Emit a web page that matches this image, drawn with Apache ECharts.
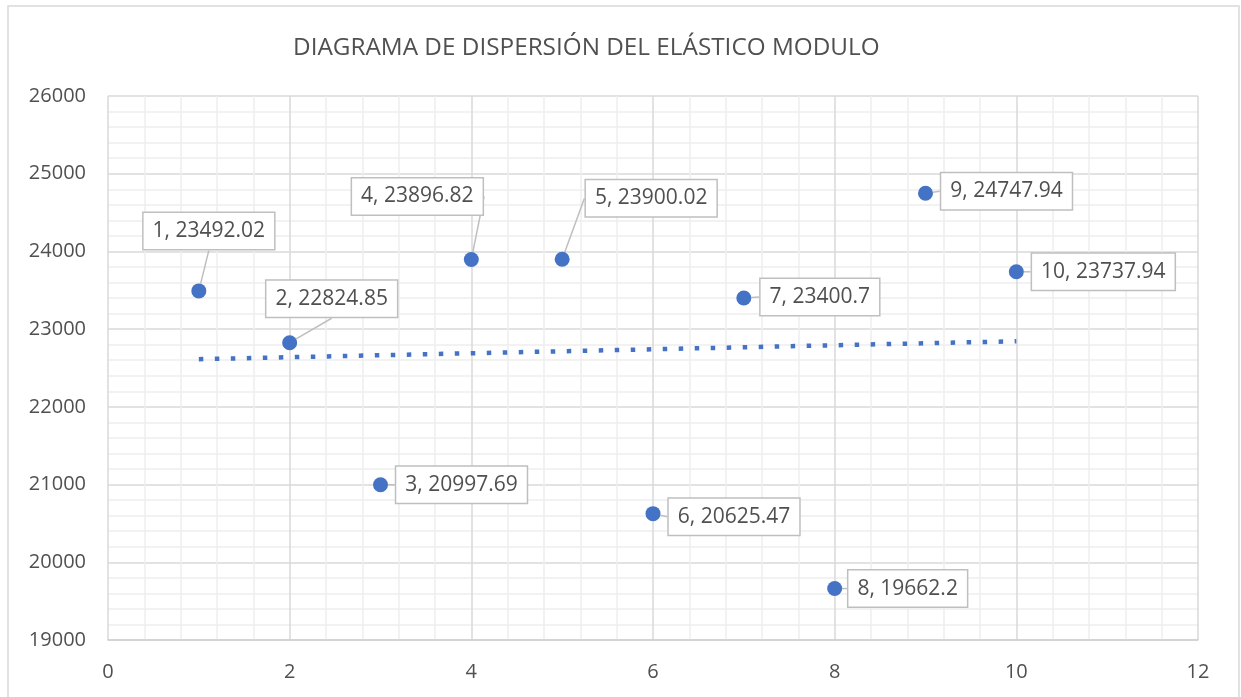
<!DOCTYPE html>
<html>
<head>
<meta charset="utf-8">
<title>Diagrama de dispersión</title>
<script src="https://cdn.jsdelivr.net/npm/echarts@6/dist/echarts.min.js"></script>
<style>
  html, body { margin: 0; padding: 0; background: #fff; }
  #chart { width: 1241px; height: 697px; }
</style>
</head>
<body>
<div id="chart"></div>
<script>
// datos de los ensayos
const ensayos = [1, 2, 3, 4, 5, 6, 7, 8, 9, 10]
const modulo = [23492.02, 22824.85, 20997.69, 23896.82, 23900.02, 20625.47, 23400.7, 19662.2, 24747.94, 23737.94]
// linea de tendencia (extremos)
const tendenciaX = [1, 10]
const tendenciaY = [22613, 22844]

// desplazamiento de cada etiqueta respecto al punto
const labelOffsets = [
  [10, -60], [42, -44], [81, 0], [-54, -63], [89, -61],
  [81, 3], [76, -1], [73, 0], [81, -2], [87, 0]
]

const chart = echarts.init(document.getElementById('chart'))
const font = '"Open Sans", sans-serif'
const textColor = '#505050'

const option = {
  backgroundColor: '#fff',
  animation: false,
  title: {
    text: 'DIAGRAMA DE DISPERSIÓN DEL ELÁSTICO MODULO',
    left: 288,
    top: 31,
    textStyle: {
      fontFamily: font,
      fontSize: 24.3,
      fontWeight: 'normal',
      color: textColor
    }
  },
  graphic: [{
    type: 'rect',
    shape: { x: 8, y: 6, width: 1231, height: 700 },
    style: { fill: 'none', stroke: '#d9d9d9', lineWidth: 1.5 },
    silent: true
  }],
  grid: {
    left: 108,
    right: 43,
    top: 96,
    bottom: 57
  },
  xAxis: {
    type: 'value',
    min: 0,
    max: 12,
    interval: 2,
    axisLine: { show: true, lineStyle: { color: '#d0d0d0', width: 1.5 } },
    axisTick: { show: false },
    axisLabel: { color: textColor, fontFamily: font, fontSize: 20, margin: 22 },
    splitLine: { show: true, lineStyle: { color: '#d9d9d9', width: 1.5 } },
    minorTick: { show: false, splitNumber: 5 },
    minorSplitLine: { show: true, lineStyle: { color: '#eeeeee', width: 1.5 } }
  },
  yAxis: {
    type: 'value',
    min: 19000,
    max: 26000,
    interval: 1000,
    axisLine: { show: false },
    axisTick: { show: false },
    axisLabel: {
      color: textColor,
      fontFamily: font,
      fontSize: 20,
      margin: 22,
      formatter: (v) => String(v)
    },
    splitLine: { show: true, lineStyle: { color: '#d9d9d9', width: 1.5 } },
    minorTick: { show: false, splitNumber: 5 },
    minorSplitLine: { show: true, lineStyle: { color: '#eeeeee', width: 1.5 } }
  },
  series: [
    {
      name: 'Tendencia',
      type: 'line',
      data: tendenciaX.map((x, i) => [x, tendenciaY[i]]),
      symbol: 'none',
      silent: true,
      z: 1,
      lineStyle: {
        color: '#4472c4',
        width: 4.5,
        type: [4.5, 11.5],
        cap: 'butt'
      }
    },
    {
      name: 'Modulo',
      type: 'scatter',
      data: ensayos.map((x, i) => [x, modulo[i]]),
      symbol: 'circle',
      symbolSize: 15,
      z: 3,
      itemStyle: { color: '#4472c4', opacity: 1 },
      label: {
        show: true,
        position: 'inside',
        formatter: (p) => p.value[0] + ', ' + p.value[1],
        fontFamily: font,
        fontSize: 21,
        color: textColor,
        backgroundColor: '#fff',
        borderColor: '#bfbfbf',
        borderWidth: 1.5,
        padding: [8, 9, 7, 9]
      },
      labelLine: {
        show: true,
        lineStyle: { color: '#bfbfbf', width: 1.5 }
      },
      labelLayout: (params) => {
        const off = labelOffsets[params.dataIndex]
        return { dx: off[0], dy: off[1] }
      }
    }
  ]
}

chart.setOption(option)
</script>
</body>
</html>
